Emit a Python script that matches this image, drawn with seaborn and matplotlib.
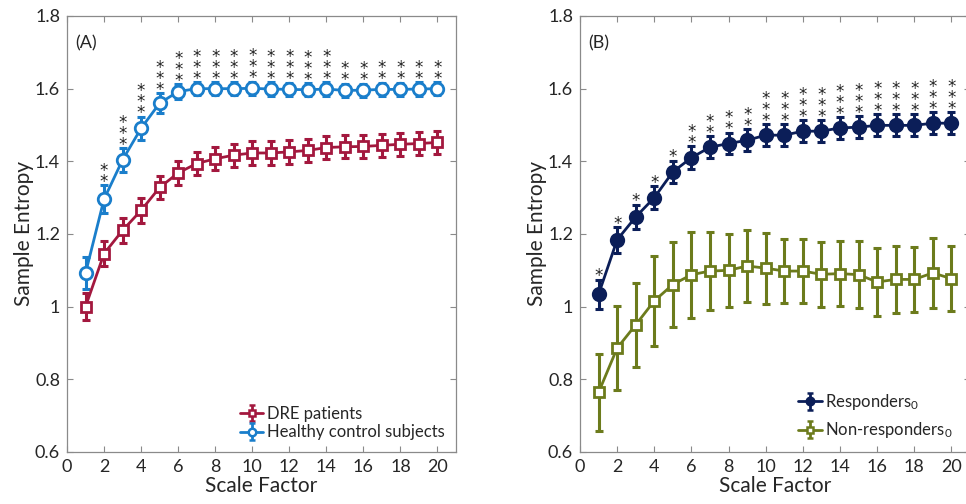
import numpy as np
import pandas as pd
import matplotlib
matplotlib.use("Agg")
import matplotlib.pyplot as plt
import seaborn as sns

scale = list(range(1, 21))

dre_mean = [1.000, 1.146, 1.210, 1.265, 1.328, 1.368, 1.394, 1.407, 1.417, 1.423,
            1.423, 1.426, 1.430, 1.438, 1.440, 1.441, 1.444, 1.447, 1.449, 1.452]
dre_err = [0.037, 0.035, 0.035, 0.034, 0.033, 0.033, 0.032, 0.032, 0.032, 0.032,
           0.032, 0.032, 0.032, 0.032, 0.032, 0.032, 0.032, 0.032, 0.032, 0.032]
hc_mean = [1.092, 1.296, 1.404, 1.491, 1.560, 1.592, 1.600, 1.600, 1.600, 1.601,
           1.599, 1.598, 1.597, 1.599, 1.595, 1.596, 1.598, 1.598, 1.599, 1.600]
hc_err = [0.044, 0.039, 0.032, 0.032, 0.028, 0.020, 0.018, 0.018, 0.018, 0.018,
          0.018, 0.018, 0.018, 0.018, 0.018, 0.018, 0.018, 0.018, 0.018, 0.018]
stars_a = ["", "**", "***", "***", "***", "***", "***", "***", "***", "***",
           "***", "***", "***", "***", "**", "**", "**", "**", "**", "**"]

resp_mean = [1.034, 1.184, 1.247, 1.300, 1.371, 1.410, 1.439, 1.449, 1.458, 1.472,
             1.472, 1.483, 1.483, 1.492, 1.494, 1.499, 1.499, 1.499, 1.505, 1.505]
resp_err = [0.040, 0.035, 0.033, 0.032, 0.031, 0.031, 0.030, 0.030, 0.030, 0.030,
            0.030, 0.030, 0.030, 0.030, 0.030, 0.030, 0.030, 0.030, 0.030, 0.030]
nonresp_mean = [0.764, 0.886, 0.950, 1.016, 1.061, 1.088, 1.098, 1.100, 1.112, 1.106,
                1.098, 1.098, 1.089, 1.091, 1.088, 1.068, 1.075, 1.075, 1.093, 1.077]
nonresp_err = [0.105, 0.115, 0.116, 0.123, 0.118, 0.118, 0.108, 0.100, 0.100, 0.098,
               0.089, 0.089, 0.089, 0.090, 0.092, 0.094, 0.092, 0.090, 0.097, 0.090]
stars_b = ["*", "*", "*", "*", "*", "**", "**", "**", "**", "***",
           "***", "***", "***", "***", "***", "***", "***", "***", "***", "***"]

x_ticks = list(range(0, 21, 2))
y_ticks = [0.6, 0.8, 1.0, 1.2, 1.4, 1.6, 1.8]

sns.set_theme(style="white")
plt.rcParams["font.family"] = ["Lato", "DejaVu Sans"]
plt.rcParams["mathtext.fontset"] = "custom"
plt.rcParams["mathtext.rm"] = "Lato"
plt.rcParams["mathtext.it"] = "Lato"

RED = "#A3183E"
BLUE = "#1A7ECB"
NAVY = "#0B1E58"
OLIVE = "#6C7B1C"
SPINE = "#8a8a8a"
TXT = "#262626"

fig = plt.figure(figsize=(9.66, 5.04), dpi=100)
axA = fig.add_axes([67/966, 52/504, 389/966, 436/504])
axB = fig.add_axes([580/966, 52/504, 390/966, 436/504])

series = {
    "A": [("DRE patients", dre_mean, dre_err, RED, "s", 7, "white"),
          ("Healthy control subjects", hc_mean, hc_err, BLUE, "o", 9, "white")],
    "B": [("Responders$_0$", resp_mean, resp_err, NAVY, "o", 9, NAVY),
          ("Non-responders$_0$", nonresp_mean, nonresp_err, OLIVE, "s", 7.5, "white")],
}

def draw(ax, key, stars, star_series):
    handles = []
    for (label, m, e, col, mk, ms, fc) in series[key]:
        ax.errorbar(scale, m, yerr=e, fmt="none", ecolor=col, elinewidth=2.2,
                    capsize=2.8, capthick=2.2, zorder=2)
        df = pd.DataFrame({"scale": scale, "val": m})
        sns.lineplot(data=df, x="scale", y="val", ax=ax, color=col, lw=2.0,
                     marker=mk, markersize=ms, markerfacecolor=fc,
                     markeredgecolor=col, markeredgewidth=2.0, legend=False,
                     zorder=3)
        h = ax.errorbar([np.nan], [np.nan], yerr=[np.nan], fmt="-" + mk,
                        color=col, lw=2.0, ms=ms * 0.6, mfc=fc, mec=col, mew=1.8,
                        elinewidth=2.0, capsize=2.5, capthick=2.0, label=label)
        handles.append(h)
    m, e = star_series
    for xi, yi, ei, s in zip(scale, m, e, stars):
        if not s:
            continue
        ax.annotate("\n".join(s), xy=(xi, yi + ei), xytext=(0, -4.0),
                    textcoords="offset points", ha="center", va="bottom",
                    fontsize=12, linespacing=0.5, color="#222222", zorder=5,
                    family="DejaVu Sans")
    ax.set_xlim(0, 21)
    ax.set_ylim(0.6, 1.8)
    ax.set_xticks(x_ticks)
    ax.set_yticks(y_ticks)
    ax.set_yticklabels([f"{v:g}" for v in y_ticks])
    ax.tick_params(direction="in", length=4, width=0.8, color=SPINE,
                   labelsize=13, labelcolor=TXT, top=True, right=True,
                   bottom=True, left=True, pad=5)
    for sp in ax.spines.values():
        sp.set_color(SPINE)
        sp.set_linewidth(0.9)
    ax.set_xlabel("Scale Factor", fontsize=15, color=TXT, labelpad=1)
    ax.set_ylabel("Sample Entropy", fontsize=15, color=TXT, labelpad=1)
    return handles

hA = draw(axA, "A", stars_a, (hc_mean, hc_err))
hB = draw(axB, "B", stars_b, (resp_mean, resp_err))

axA.text(0.022, 0.955, "(A)", transform=axA.transAxes, fontsize=13, color=TXT,
         ha="left", va="top")
axB.text(0.022, 0.955, "(B)", transform=axB.transAxes, fontsize=13, color=TXT,
         ha="left", va="top")

axA.legend(handles=hA, loc="lower right", frameon=False, fontsize=12,
           handlelength=1.4, handletextpad=0.2, labelspacing=0.15,
           borderaxespad=0.3, bbox_to_anchor=(1.0, 0.0))
axB.legend(handles=hB, loc="lower right", frameon=False, fontsize=12,
           handlelength=1.4, handletextpad=0.2, labelspacing=0.5,
           borderaxespad=0.3, bbox_to_anchor=(0.985, 0.0))

fig.savefig("out.png", dpi=100)
